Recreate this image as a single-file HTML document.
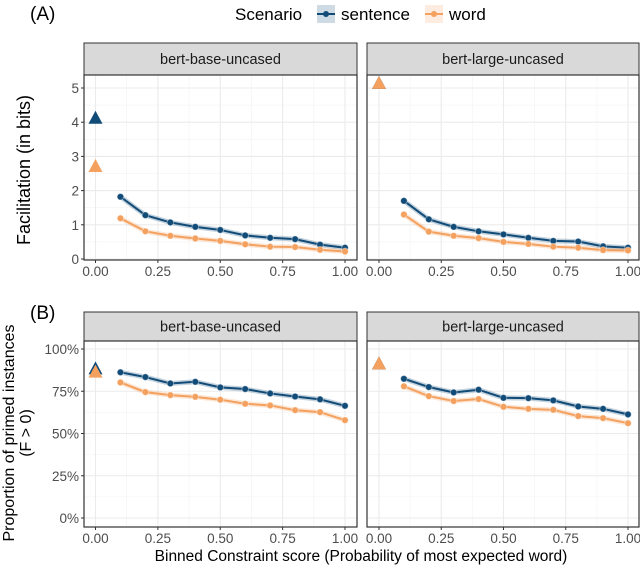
<!DOCTYPE html>
<html><head><meta charset="utf-8"><style>
body{margin:0;background:#fff;}
svg{display:block;font-family:"Liberation Sans",sans-serif;}
</style></head><body>
<svg id="c" width="640" height="568" viewBox="0 0 640 568"></svg>
<script>
const xVals=[0.1,0.2,0.3,0.4,0.5,0.6,0.7,0.8,0.9,1.0];
const xTicks=["0.00","0.25","0.50","0.75","1.00"];
const facilBaseSent=[1.82,1.28,1.07,0.94,0.85,0.69,0.62,0.58,0.42,0.33];
const facilBaseWord=[1.19,0.81,0.68,0.60,0.53,0.43,0.36,0.35,0.27,0.22];
const facilLargeSent=[1.70,1.16,0.94,0.81,0.72,0.62,0.53,0.51,0.37,0.33];
const facilLargeWord=[1.30,0.80,0.68,0.61,0.50,0.44,0.36,0.33,0.26,0.25];
const facilTri=[[4.13,2.72],[5.15,5.15]];
const facilTicks=[0,1,2,3,4,5];
const propBaseSent=[86.2,83.4,79.6,80.6,77.3,76.3,73.7,71.9,70.2,66.4];
const propBaseWord=[80.2,74.5,72.7,71.7,70.0,67.6,66.6,63.8,62.6,57.9];
const propLargeSent=[82.4,77.5,74.3,75.9,71.1,70.9,69.6,66.0,64.6,61.3];
const propLargeWord=[77.9,72.1,69.2,70.4,65.8,64.6,64.0,60.3,59.1,56.1];
const propTri=[[88.5,86.6],[91.5,91.5]];
const propTicks=[0,25,50,75,100];
const panels=["bert-base-uncased","bert-large-uncased"];

const NS="http://www.w3.org/2000/svg";
const svg=document.getElementById('c');
const SC="#114b78",WC="#f4a05e";
function el(t,a,p){const e=document.createElementNS(NS,t);for(const k in a)e.setAttribute(k,a[k]);(p||svg).appendChild(e);return e;}
function txt(s,a,p){const e=el('text',a,p);e.textContent=s;return e;}

const panelX=[[84,357,95.5,345],[367,639,379,628]];
function drawRow(yTop,stripBot,plotBot,y0px,yMaxPx,yMax,ticks,fmt,series,tris,rowName){
  const ys=v=>y0px+(yMaxPx-y0px)*v/yMax;
  panels.forEach((pn,pi)=>{
    const [L,R,x0,x1]=panelX[pi];
    const xs=v=>x0+(x1-x0)*v;
    const g=el('g',{},svg);
    
    
    el('rect',{x:L,y:yTop,width:R-L,height:stripBot-yTop,fill:'#d9d9d9',stroke:'#333','stroke-width':1},g);
    const st=txt(pn,{x:(L+R)/2,y:(yTop+stripBot)/2+5,'text-anchor':'middle','font-size':14.5,fill:'#1a1a1a'},g);
    
    el('rect',{x:L,y:stripBot,width:R-L,height:plotBot-stripBot,fill:'#fff'},g);
    for(let i=0;i<4;i++){const v=0.125+0.25*i;el('line',{x1:xs(v),x2:xs(v),y1:stripBot,y2:plotBot,stroke:'#f2f2f2','stroke-width':0.6},g);}
    for(let i=0;i<ticks.length-1;i++){const v=(ticks[i]+ticks[i+1])/2;el('line',{x1:L,x2:R,y1:ys(v),y2:ys(v),stroke:'#f2f2f2','stroke-width':0.6},g);}
    xTicks.forEach(t=>{const v=+t;el('line',{x1:xs(v),x2:xs(v),y1:stripBot,y2:plotBot,stroke:'#ebebeb','stroke-width':1.1},g);
      el('line',{x1:xs(v),x2:xs(v),y1:plotBot,y2:plotBot+3,stroke:'#333'},g);
      const tl=txt(t,{x:xs(v),y:plotBot+16,'text-anchor':'middle','font-size':13.5,fill:'#4d4d4d'},g);
      });
    ticks.forEach(v=>{el('line',{x1:L,x2:R,y1:ys(v),y2:ys(v),stroke:'#ebebeb','stroke-width':1.1},g);});
    series[pi].forEach((arr,si)=>{
      const c=si===0?SC:WC;
      const pts=arr.map((v,i)=>xs(xVals[i])+','+ys(v)).join(' ');
      el('polyline',{points:pts,fill:'none',stroke:c,'stroke-opacity':0.25,'stroke-width':5},g);
      const ln=el('polyline',{points:pts,fill:'none',stroke:c,'stroke-width':2},g);
      
      arr.forEach((v,i)=>{const p=el('circle',{cx:xs(xVals[i]),cy:ys(v),r:3.3,fill:c,stroke:'#fff','stroke-opacity':0.4,'stroke-width':1},g);
        });
    });
    tris[pi].forEach((v,si)=>{const cx=xs(0),cy=ys(v);
      const t=el('polygon',{points:`${cx-7},${cy+6} ${cx+7},${cy+6} ${cx},${cy-7}`,fill:si===0?SC:WC},g);
      });
    el('rect',{x:L,y:stripBot,width:R-L,height:plotBot-stripBot,fill:'none',stroke:'#333','stroke-width':1.2},g);
    if(pi===0){ticks.forEach(v=>{el('line',{x1:L-3,x2:L,y1:ys(v),y2:ys(v),stroke:'#333'},g);
      const tl=txt(fmt(v),{x:L-5,y:ys(v)+5,'text-anchor':'end','font-size':13.5,fill:'#4d4d4d'},g);
      });}
  });
}
drawRow(43,75,260,259,88,5,facilTicks,v=>String(v),[[facilBaseSent,facilBaseWord],[facilLargeSent,facilLargeWord]],facilTri,'facilitation');
drawRow(312,341,527,518,349,100,propTicks,v=>v+'%',[[propBaseSent,propBaseWord],[propLargeSent,propLargeWord]],propTri,'proportion');

let t;
t=txt('(A)',{x:30,y:20,'font-size':19,fill:'#000'});
t=txt('(B)',{x:30,y:319,'font-size':19,fill:'#000'});
t=txt('Facilitation (in bits)',{x:0,y:0,'font-size':18,'text-anchor':'middle',transform:'translate(30,170) rotate(-90)',fill:'#000'});

t=el('text',{'font-size':16,'text-anchor':'middle',transform:'translate(0,433) rotate(-90)',fill:'#000'});

el('tspan',{x:0,y:14},t).textContent='Proportion of primed instances';
el('tspan',{x:0,y:31},t).textContent='(F > 0)';
t=txt('Binned Constraint score (Probability of most expected word)',{x:361,y:561,'text-anchor':'middle','font-size':15.5,fill:'#000'});

const lg=el('g',{});
txt('Scenario',{x:235,y:20,'font-size':17,fill:'#000'},lg);
[[SC,'sentence',317],[WC,'word',425]].forEach(([c,n,x])=>{
  const e=el('g',{},lg);
  el('rect',{x:x,y:5,width:18,height:18,fill:c,'fill-opacity':0.2},e);
  el('line',{x1:x,x2:x+18,y1:14,y2:14,stroke:c,'stroke-width':2},e);
  el('circle',{cx:x+9,cy:14,r:3,fill:c},e);
  txt(n,{x:x+24,y:20,'font-size':17,fill:'#000'},e);
});
</script>
</body></html>
